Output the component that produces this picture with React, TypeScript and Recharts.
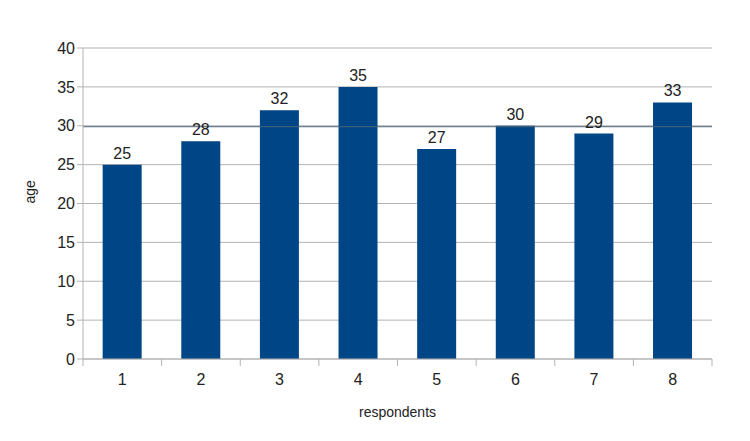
import { BarChart, Bar, XAxis, YAxis, CartesianGrid, LabelList, ReferenceLine } from 'recharts'

const respondents = ['1', '2', '3', '4', '5', '6', '7', '8']
const ages = [25, 28, 32, 35, 27, 30, 29, 33]
const yTicks = [0, 5, 10, 15, 20, 25, 30, 35, 40]

const data = respondents.map((r, i) => ({ name: r, age: ages[i] }))
const meanAge = ages.reduce((a, b) => a + b, 0) / ages.length

const W = 750
const H = 441
const M = { top: 48, right: 38, bottom: 0, left: 0 }
const X_AXIS_H = 82
const AXIS_W = 83
const band = (W - AXIS_W - M.right) / respondents.length
const gridColor = '#b3b3b3'
const font = '"Liberation Sans", Arial, sans-serif'

function XTick(props: any) {
  const { x, y, payload, index } = props
  const last = index === respondents.length - 1
  return (
    <g>
      <line x1={x - band / 2} x2={x - band / 2} y1={y - 8} y2={y - 1} stroke={gridColor} />
      {last && <line x1={x + band / 2} x2={x + band / 2} y1={y - 8} y2={y - 1} stroke={gridColor} />}
      <text x={x} y={y + 18} textAnchor="middle" fontSize={16} fill="#222" fontFamily={font}>
        {payload.value}
      </text>
    </g>
  )
}

export default function App() {
  return (
    <div style={{ position: 'absolute', left: 0, top: 0, background: '#fff' }}>
      <BarChart width={W} height={H} data={data} margin={M} barCategoryGap="25%">
        <CartesianGrid vertical={false} stroke={gridColor} />
        <XAxis
          dataKey="name"
          tick={<XTick />}
          tickLine={false}
          axisLine={{ stroke: gridColor }}
          height={X_AXIS_H}
          label={{ value: 'respondents', position: 'insideBottom', offset: 24, fontSize: 14, fill: '#222', fontFamily: font }}
        />
        <YAxis
          domain={[0, 40]}
          ticks={yTicks}
          width={AXIS_W}
          tickSize={6}
          tickLine={{ stroke: gridColor }}
          axisLine={{ stroke: gridColor }}
          tick={{ fontSize: 16, fill: '#222', fontFamily: font }}
          label={{ value: 'age', angle: -90, position: 'insideLeft', offset: 30, fontSize: 14, fill: '#222', fontFamily: font }}
        />
        <YAxis yAxisId="right" orientation="right" width={0} tick={false} tickLine={false} axisLine={{ stroke: gridColor }} />
        <Bar dataKey="age" fill="#004586" isAnimationActive={false}>
          <LabelList dataKey="age" position="top" offset={6} fontSize={16} fill="#222" fontFamily={font} />
        </Bar>
        <ReferenceLine y={meanAge} stroke="#4a6478" strokeWidth={1} />
      </BarChart>
    </div>
  )
}
